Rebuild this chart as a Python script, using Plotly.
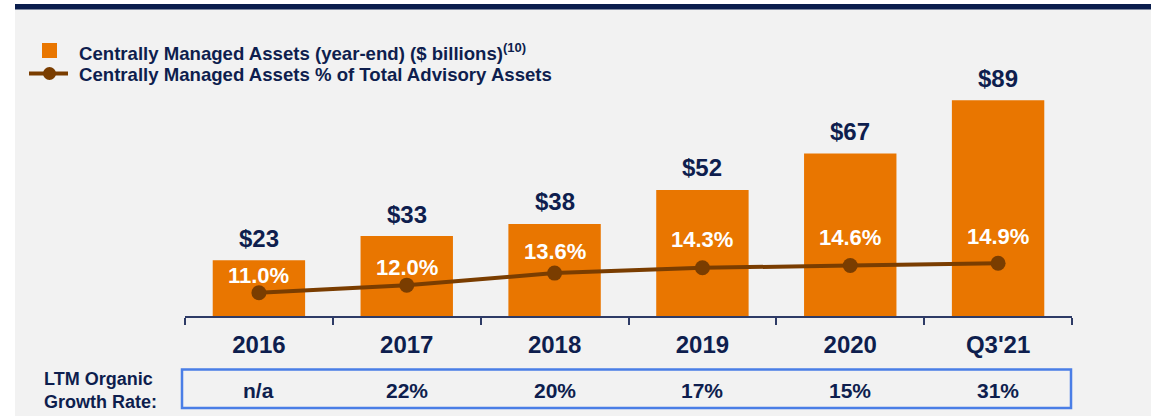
import plotly.graph_objects as go

# ---------------- data ----------------
categories = ["2016", "2017", "2018", "2019", "2020", "Q3'21"]
assets_bn = [23, 33, 38, 52, 67, 89]
asset_labels = ["$23", "$33", "$38", "$52", "$67", "$89"]
pct_of_total = [11.0, 12.0, 13.6, 14.3, 14.6, 14.9]
pct_labels = ["11.0%", "12.0%", "13.6%", "14.3%", "14.6%", "14.9%"]
growth_labels = ["n/a", "22%", "20%", "17%", "15%", "31%"]
legend_names = ["Centrally Managed Assets (year-end) ($ billions)<sup>(10)</sup>",
                "Centrally Managed Assets % of Total Advisory Assets"]
row_label = "LTM Organic<br>Growth Rate:"

# ---------------- style ----------------
ORANGE = "#E97600"
BROWN = "#7A3D00"
NAVY = "#0E1E4E"
AXIS = "#2E3B66"
BLUE = "#4A7EE6"
BG = "#F2F2F2"
FONT = "Liberation Sans, Arial, sans-serif"
pct_label_shift = [17, 18, 22, 28, 28, 27]

W, H = 1151, 416
ML, MR, MT, MB = 185, 79, 60, 100
PW, PH = W - ML - MR, H - MT - MB


def px(x):
    return (x - ML) / PW


def py(y):
    return (H - MB - y) / PH


fig = go.Figure()
fig.add_trace(go.Bar(
    x=categories, y=assets_bn, marker=dict(color=ORANGE, line=dict(width=0)),
    width=0.625, showlegend=False, hoverinfo="skip"))
fig.add_trace(go.Scatter(
    x=categories, y=pct_of_total, yaxis="y2", mode="lines+markers",
    line=dict(color=BROWN, width=4), marker=dict(color=BROWN, size=15),
    showlegend=False, hoverinfo="skip"))

ann = []
for i, c in enumerate(categories):
    ann.append(dict(x=i, y=assets_bn[i], xref="x", yref="y", text=asset_labels[i],
                    showarrow=False, yanchor="middle", yshift=22,
                    font=dict(family=FONT, size=24, color=NAVY, weight="bold")))
    ann.append(dict(x=i, y=pct_of_total[i], xref="x", yref="y2", text=pct_labels[i],
                    showarrow=False, yanchor="middle", yshift=pct_label_shift[i],
                    font=dict(family=FONT, size=22, color="white", weight="bold")))
    ann.append(dict(x=i, y=py(390.5), xref="x", yref="paper", text=growth_labels[i],
                    showarrow=False, yanchor="middle",
                    font=dict(family=FONT, size=21, color=NAVY, weight="bold")))
ann.append(dict(x=px(42), y=py(390.5), xref="paper", yref="paper", text=row_label,
                showarrow=False, xanchor="left", yanchor="middle", align="left",
                font=dict(family=FONT, size=18, color=NAVY, weight="bold")))
ann.append(dict(x=px(77), y=py(51.5), xref="paper", yref="paper", text=legend_names[0],
                showarrow=False, xanchor="left", yanchor="middle", align="left",
                font=dict(family=FONT, size=18.6, color=NAVY, weight="bold")))
ann.append(dict(x=px(77), y=py(74), xref="paper", yref="paper", text=legend_names[1],
                showarrow=False, xanchor="left", yanchor="middle", align="left",
                font=dict(family=FONT, size=18.6, color=NAVY, weight="bold")))

shapes = [
    dict(type="rect", xref="paper", yref="paper", x0=px(15), x1=px(W + 5),
         y0=py(9), y1=py(H + 5), fillcolor=BG, line=dict(width=0), layer="below"),
    dict(type="rect", xref="paper", yref="paper", x0=px(15), x1=px(W + 5),
         y0=py(4), y1=py(9.5), fillcolor="#0B1E4D", line=dict(width=0), layer="below"),
    dict(type="rect", xref="paper", yref="paper", x0=px(182), x1=px(1071),
         y0=py(369.5), y1=py(408), line=dict(color=BLUE, width=2.5),
         fillcolor="rgba(0,0,0,0)"),
    dict(type="rect", xref="paper", yref="paper", x0=px(42), x1=px(57),
         y0=py(43), y1=py(58), fillcolor=ORANGE, line=dict(width=0)),
    dict(type="line", xref="paper", yref="paper", x0=px(29), x1=px(68),
         y0=py(73.5), y1=py(73.5), line=dict(color=BROWN, width=4)),
    dict(type="circle", xref="paper", yref="paper", x0=px(43), x1=px(56),
         y0=py(67), y1=py(80), fillcolor=BROWN, line=dict(width=0)),
]

fig.update_layout(
    width=W, height=H, autosize=False,
    margin=dict(l=ML, r=MR, t=MT, b=MB, pad=0),
    paper_bgcolor="white", plot_bgcolor="rgba(0,0,0,0)",
    annotations=ann, shapes=shapes, showlegend=False,
    bargap=0.375,
    xaxis=dict(type="category", categoryorder="array", categoryarray=categories,
               range=[-0.5, len(categories) - 0.5],
               showline=True, linecolor=AXIS, linewidth=2, ticks="outside",
               tickson="boundaries", ticklen=7, tickwidth=2, tickcolor=AXIS,
               showgrid=False, zeroline=False, ticklabelstandoff=6,
               tickfont=dict(family=FONT, size=24, color=NAVY, weight="bold"),
               fixedrange=True),
    yaxis=dict(range=[0, 105.6], visible=False, showgrid=False, zeroline=False,
               fixedrange=True),
    yaxis2=dict(range=[7.91, 41.86], overlaying="y", visible=False,
                showgrid=False, zeroline=False, fixedrange=True),
)

fig.write_html("out.html", config={"displayModeBar": False},
               post_script="document.body.style.margin='0';document.body.style.padding='0';")
